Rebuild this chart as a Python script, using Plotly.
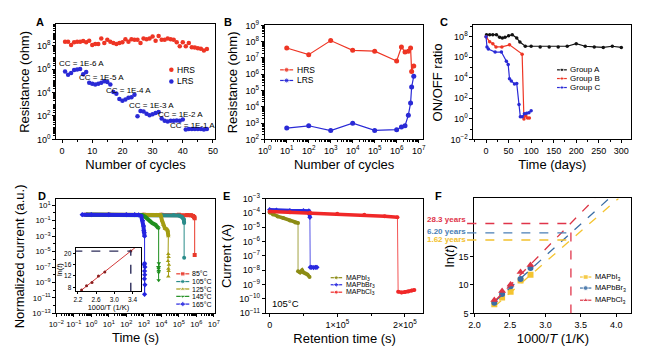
import plotly.graph_objects as go

W, H = 647, 361
FONT = "Liberation Sans, Arial, sans-serif"

# ======================= DATA =======================
# --- Panel A: resistance vs cycle number under different compliance currents
cycles_a = list(range(1, 49))
hrs_a = [2.1e8, 2.1e8, 1.1e8, 1.9e8, 2.1e8, 2.1e8, 2.4e8, 1.9e8, 2.5e8, 1.1e8,
         1.35e8, 1.35e8, 4.0e8, 1.65e8, 3.1e8, 2.1e8, 1.65e8, 1.35e8, 1.65e8, 1.9e8,
         3.5e8, 2.1e8, 3.5e8, 3.1e8, 3.1e8, 1.65e8, 4.0e8, 3.5e8, 4.0e8, 5.8e8,
         2.5e8, 6.6e8, 3.1e8, 3.1e8, 4.0e8, 3.5e8, 3.1e8, 1.9e8, 8.7e7, 1.9e8,
         8.5e7, 1.65e8, 7.1e7, 6.8e7, 5.9e7, 5.2e7, 3.8e7, 5.0e7]
lrs_a = [6.2e5, 3.2e5, 4.5e5, 8.3e5, 8.9e5, 1.0e6, 3.5e5, 5.6e5,
         6.6e4, 5.5e4, 4.9e4, 5.5e4, 6.6e4, 9.1e4, 7.9e4, 4.9e4,
         1.1e4, 7.9e3, 2.8e3, 2.0e3, 2.5e3, 3.5e3, 4.0e3, 6.3e3,
         95, 263, 240, 158, 117, 141, 182, 219,
         62, 40, 33, 40, 40, 42, 40, 51,
         7.1, 7.6, 7.6, 7.6, 7.6, 7.6, 7.1, 7.6]
cc_labels = ["CC = 1E-6 A", "CC = 1E-5 A", "CC = 1E-4 A",
             "CC = 1E-3 A", "CC = 1E-2 A", "CC = 1E-1 A"]

# --- Panel B: endurance
cycles_b = [10, 100, 1e3, 1e4, 1e5, 1e6, 1.65e6, 2.4e6, 3.4e6, 4.3e6, 4.8e6, 6.0e6]
hrs_b = [4.1e7, 1.6e7, 1.17e8, 2.95e7, 2.6e7, 6.5e6, 4.7e7, 2.3e7, 2.6e7, 4.1e7, 1.5e6, 3.2e6]
lrs_b = [500, 690, 350, 1000, 360, 400, 575, 690, 3100, 1.7e4, 1.66e5, 7.6e5]

# --- Panel C: ON/OFF ratio vs storage time
days_grp_a = [1, 8, 15, 23, 30, 36, 42, 50, 58, 68, 75, 87, 100, 120, 140, 160,
              180, 200, 220, 240, 260, 280, 300]
ratio_grp_a = [1.55e8, 1.55e8, 1.55e8, 1.55e8, 8.7e7, 7.6e7, 8.7e7, 1.23e8, 1.55e8,
               7.6e7, 3.0e7, 1.17e7, 1.17e7, 1.0e7, 1.0e7, 1.0e7, 1.17e7, 2.1e7,
               1.17e7, 1.0e7, 8.9e6, 1.17e7, 8.9e6]
days_grp_b = [0, 8, 15, 22, 35, 52, 80, 84, 88, 92, 96]
ratio_grp_b = [1e8, 3.2e7, 2e7, 1e7, 1e7, 1.6e7, 2e6, 1.0, 2.0, 1.25, 1.25]
days_grp_c = [0, 2, 5, 20, 34, 45, 49, 52, 56, 63, 68, 73, 76, 80, 85, 90, 95, 100]
ratio_grp_c = [1e8, 1e7, 6.3e6, 3.2e6, 3.2e6, 4e5, 2e5, 7.9e3, 5e3, 2.5e3, 2.8e3,
               25, 1.6, 1.6, 3.2, 3.5, 4.0, 6.3]

# --- Panel D: retention at different temperatures (before / after failure)
temps_d = ["85°C", "105°C", "125°C", "145°C", "165°C"]
t_ret_d = [
    [0.5, 10, 1e3, 1e4, 1e5, 3e5, 5e5, 6.5e5, 7.5e5, 8e5],
    [0.5, 10, 1e3, 1e4, 5e4, 1e5, 1.5e5, 1.9e5, 2e5],
    [0.5, 10, 1e3, 5e3, 9e3, 1.1e4, 1.3e4, 1.6e4, 2e4, 2.3e4, 2.5e4],
    [0.5, 10, 300, 800, 1.2e3, 2e3, 3e3, 4.5e3, 6e3, 7e3],
    [0.3, 1, 10, 100, 300, 500, 700, 850, 950, 1000, 1050, 1100],
]
i_ret_d = [
    [0.6, 0.6, 0.6, 0.6, 0.6, 0.55, 0.5, 0.4, 0.3, 0.2],
    [0.6, 0.6, 0.6, 0.6, 0.55, 0.45, 0.3, 0.15, 0.05],
    [0.6, 0.6, 0.6, 0.6, 0.55, 0.1, 0.03, 0.01, 0.008, 0.005, 1e-3],
    [0.6, 0.6, 0.6, 0.55, 0.3, 0.1, 0.05, 0.03, 0.015, 0.01],
    [0.6, 0.6, 0.6, 0.6, 0.6, 0.55, 0.4, 0.1, 0.02, 0.005, 3e-3, 1e-3],
]
t_fail_d = [
    [8e5],
    [2e5],
    [2.5e4, 2.6e4, 2.4e4, 2.7e4, 2.5e4, 2.6e4, 2.5e4],
    [7e3, 7.2e3, 6.8e3, 7.1e3, 7e3, 6.9e3, 7e3],
    [1100, 1150, 1080, 1120, 1100, 1150, 1060, 1100],
]
i_fail_d = [
    [3.5e-6],
    [1.6e-6],
    [5e-6, 2e-6, 6e-7, 2e-7, 6e-8, 3e-8, 6e-9],
    [1e-7, 3e-7, 1e-7, 3e-8, 2e-8, 6e-8, 2e-9],
    [3e-11, 5e-10, 3e-9, 1e-8, 3e-8, 1e-7, 2e-7, 3e-7],
]
# inset: Arrhenius plot
inv_t_inset = [2.28, 2.39, 2.51, 2.65, 2.79, 3.36]
ln_t_inset = [7.0, 8.5, 9.7, 12.0, 13.4, 20.8]
fit_x_inset = [2.28, 3.6]
fit_y_inset = [7.0, 23.9]

# --- Panel E: retention at 105 °C for three perovskites
mats_e = ["MAPbI<sub>3</sub>", "MAPbBr<sub>3</sub>", "MAPbCl<sub>3</sub>"]
t_ret_e = [
    [0, 0.05e5, 0.12e5, 0.2e5, 0.3e5, 0.38e5, 0.42e5],
    [0, 0.1e5, 0.3e5, 0.5e5, 0.58e5, 0.59e5, 0.595e5],
    [0, 0.3e5, 0.6e5, 1.0e5, 1.4e5, 1.7e5, 1.89e5],
]
i_ret_e = [
    [1.1e-4, 8e-5, 5.8e-5, 4.5e-5, 3e-5, 2.2e-5, 2e-5],
    [1.7e-4, 1.6e-4, 1.5e-4, 1.45e-4, 1.4e-4, 8e-5, 5e-5],
    [1.3e-4, 1.15e-4, 1.05e-4, 9e-5, 7.5e-5, 6e-5, 5e-5],
]
t_fail_e = [
    [0.42e5, 0.45e5, 0.48e5, 0.5e5, 0.53e5, 0.56e5, 0.59e5],
    [0.6e5, 0.62e5, 0.65e5, 0.68e5, 0.7e5],
    [1.9e5, 1.95e5, 2.0e5, 2.05e5, 2.1e5, 2.14e5],
]
i_fail_e = [
    [8.5e-9, 7e-9, 1e-8, 7e-9, 6e-9, 5e-9, 3.4e-9],
    [1.6e-8, 1.6e-8, 1.5e-8, 1.6e-8, 1.6e-8],
    [3.2e-10, 2.8e-10, 3e-10, 3.3e-10, 3.8e-10, 4.2e-10],
]

# --- Panel F: Arrhenius extrapolation
inv_t_f = [2.28, 2.39, 2.51, 2.65, 2.79]
ln_t_f = [
    [6.6, 7.8, 8.8, 10.8, 11.8],     # MAPbI3
    [6.9, 8.4, 9.8, 11.05, 13.0],    # MAPbBr3
    [7.37, 8.95, 10.1, 12.3, 13.5],  # MAPbCl3
]
fit_x_f = [[2.28, 4.03], [2.28, 3.90], [2.28, 3.70]]
fit_y_f = [[6.2, 25.2], [7.0, 25.2], [7.1, 25.2]]
room_inv_t = 3.36
years_lnt = [20.8, 19.15, 17.9]          # Cl, Br, I
years_labels = ["28.3 years", "6.20 years", "1.62 years"]

# ======================= STYLE =======================
RED = "#ee3524"
BLUE = "#2a2ad6"
D_COLORS = ["#e8382a", "#2a8c8a", "#a39c12", "#1f8f1f", "#2424e0"]
D_SYMBOLS = ["square", "circle", "triangle-up", "triangle-down", "diamond"]
E_COLORS = ["#8c8c14", "#2a2ae0", "#f02828"]
E_SYMBOLS = ["circle", "diamond", "circle"]
F_COLORS = ["#f4c430", "#3b6ea5", "#dc3545"]
F_SYMBOLS = ["square", "circle", "triangle-up"]
YEAR_COLORS = ["#e0344a", "#4a7fb5", "#f2c12e"]


def dx(l, r):
    return [l / W, r / W]


def dy(t, b):
    return [1 - b / H, 1 - t / H]


def pow_ticks(exps):
    vals = [10.0 ** e for e in exps]
    txt = ["10<sup>%s</sup>" % (("\u2212%d" % -e) if e < 0 else "%d" % e) for e in exps]
    return vals, txt


def axis(domain, anchor, title="", standoff=4, tsize=13, fsize=9, **kw):
    base = dict(domain=domain, anchor=anchor, showgrid=False, zeroline=False,
                showline=True, mirror=True, linecolor="black", linewidth=1,
                ticks="outside", ticklen=3, tickwidth=1, tickcolor="black", tickangle=0,
                tickfont=dict(size=fsize, color="black", family=FONT),
                title=dict(text=title, standoff=standoff,
                           font=dict(size=tsize, color="black", family=FONT)))
    base.update(kw)
    return base


fig = go.Figure()

# ---- A
fig.add_trace(go.Scatter(x=cycles_a, y=hrs_a, mode="markers", name="HRS",
                         marker=dict(color=RED, size=4.5), xaxis="x", yaxis="y"))
fig.add_trace(go.Scatter(x=cycles_a, y=lrs_a, mode="markers", name="LRS",
                         marker=dict(color=BLUE, size=4.5), xaxis="x", yaxis="y"))

# ---- B
fig.add_trace(go.Scatter(x=cycles_b, y=hrs_b, mode="lines+markers", name="HRS",
                         line=dict(color=RED, width=1.2), marker=dict(color=RED, size=5),
                         xaxis="x2", yaxis="y2"))
fig.add_trace(go.Scatter(x=cycles_b, y=lrs_b, mode="lines+markers", name="LRS",
                         line=dict(color=BLUE, width=1.2), marker=dict(color=BLUE, size=5),
                         xaxis="x2", yaxis="y2"))

# ---- C
for xs, ys, col, nm in [(days_grp_a, ratio_grp_a, "#111111", "Group A"),
                        (days_grp_b, ratio_grp_b, RED, "Group B"),
                        (days_grp_c, ratio_grp_c, BLUE, "Group C")]:
    fig.add_trace(go.Scatter(x=xs, y=ys, mode="lines+markers", name=nm,
                             line=dict(color=col, width=1.2), marker=dict(color=col, size=3.5),
                             xaxis="x3", yaxis="y3"))

# ---- D
for k in range(5):
    col = D_COLORS[k]
    fig.add_trace(go.Scatter(x=t_ret_d[k] + t_fail_d[k], y=i_ret_d[k] + i_fail_d[k],
                             mode="lines+markers", name=temps_d[k],
                             line=dict(color=col, width=1),
                             marker=dict(color=col, size=4, symbol=D_SYMBOLS[k]),
                             xaxis="x4", yaxis="y4"))
    fig.add_trace(go.Scatter(x=t_ret_d[k], y=i_ret_d[k], mode="lines", showlegend=False,
                             line=dict(color=col, width=4), xaxis="x4", yaxis="y4",
                             hoverinfo="skip"))

# inset of D
fig.add_trace(go.Scatter(x=fit_x_inset, y=fit_y_inset, mode="lines", showlegend=False,
                         line=dict(color="#d23a3a", width=1), xaxis="x7", yaxis="y7"))
fig.add_trace(go.Scatter(x=inv_t_inset, y=ln_t_inset, mode="markers", showlegend=False,
                         marker=dict(color="#8a1f1f", size=3), xaxis="x7", yaxis="y7"))

# ---- E
for k in range(3):
    col = E_COLORS[k]
    fig.add_trace(go.Scatter(x=t_ret_e[k] + t_fail_e[k], y=i_ret_e[k] + i_fail_e[k],
                             mode="lines", name=mats_e[k], line=dict(color=col, width=0.8),
                             xaxis="x5", yaxis="y5"))
    for xs, ys in [(t_ret_e[k], i_ret_e[k]), (t_fail_e[k], i_fail_e[k])]:
        fig.add_trace(go.Scatter(x=xs, y=ys, mode="lines+markers", showlegend=False,
                                 line=dict(color=col, width=3.5),
                                 marker=dict(color=col, size=4, symbol=E_SYMBOLS[k]),
                                 xaxis="x5", yaxis="y5", hoverinfo="skip"))

# ---- F
for k in range(3):
    col = F_COLORS[k]
    fig.add_trace(go.Scatter(x=fit_x_f[k], y=fit_y_f[k], mode="lines", showlegend=False,
                             line=dict(color=col, width=1.3, dash="dash"),
                             xaxis="x6", yaxis="y6"))
    fig.add_trace(go.Scatter(x=inv_t_f, y=ln_t_f[k], mode="markers", name=mats_e[k],
                             marker=dict(color=col, size=6 if k < 2 else 7, symbol=F_SYMBOLS[k]),
                             xaxis="x6", yaxis="y6"))

# ======================= overlay (pixel) layer for legends & labels =======================
annotations = []


def text(x, y, s, size=9, color="black", bold=False, xanchor="center", yanchor="middle", angle=0):
    annotations.append(dict(x=x, y=y, xref="x8", yref="y8",
                            text=("<b>%s</b>" % s) if bold else s, showarrow=False,
                            font=dict(size=size, color=color, family=FONT),
                            xanchor=xanchor, yanchor=yanchor, textangle=angle, borderpad=0))


def key(x0, xm, x1, y, color, symbol, size, line=True, width=1.2):
    if line:
        fig.add_trace(go.Scatter(x=[x0, xm, x1], y=[y, y, y], mode="lines+markers",
                                 marker=dict(size=[0, size, 0], symbol=symbol, color=color),
                                 line=dict(color=color, width=width), xaxis="x8", yaxis="y8",
                                 showlegend=False, hoverinfo="skip"))
    else:
        fig.add_trace(go.Scatter(x=[xm], y=[y], mode="markers",
                                 marker=dict(size=size, symbol=symbol, color=color),
                                 xaxis="x8", yaxis="y8", showlegend=False, hoverinfo="skip"))


# panel letters
for lab, (px, py) in zip("ABCDEF", [(33, 15), (225, 15), (445, 15), (35, 195), (223, 195), (439, 195)]):
    text(px, py, lab, size=11, bold=True)

# A legend + CC labels
for nm, col, py in [("HRS", RED, 65), ("LRS", BLUE, 77)]:
    key(0, 166.7, 0, py, col, "circle", 4.5, line=False)
    text(171.5, py, nm, size=8.5, xanchor="left")
for lab, (px, py) in zip(cc_labels, [(75, 58.3), (95, 72.7), (122.7, 86.7),
                                      (146, 101.7), (176, 111.7), (188.3, 122.7)]):
    text(px, py, lab, size=8)

# B legend
for nm, col, py in [("HRS", RED, 65), ("LRS", BLUE, 76)]:
    key(277.7, 284.3, 291, py, col, "circle", 5)
    text(293.5, py, nm, size=8.5, xanchor="left")

# C legend
for nm, col, py in [("Group A", "#111111", 65), ("Group B", RED, 74), ("Group C", BLUE, 83.3)]:
    key(560.3, 565.3, 570.3, py, col, "circle", 3.5)
    text(572.7, py, nm, size=8, xanchor="left")

# D legend
for k, py in enumerate([276, 284, 291.7, 299.3, 307.3]):
    key(171.7, 178.3, 185, py, D_COLORS[k], D_SYMBOLS[k], 4.5)
    text(186.7, py, temps_d[k], size=7, xanchor="left")

# E legend + temperature label
for k, py in enumerate([280, 287.3, 295]):
    key(329.3, 335, 341, py, E_COLORS[k], E_SYMBOLS[k], 4)
    text(344.3, py, mats_e[k], size=7, xanchor="left")
text(282.7, 306.7, "105°C", size=9.5)

# F legend + year labels
for k, py in enumerate([279.3, 290.7, 303.3]):
    key(583.7, 589.5, 595.3, py, F_COLORS[k], F_SYMBOLS[k], 5)
    text(597.7, py, mats_e[k], size=7.5, xanchor="left")
for lab, col, py in zip(years_labels, YEAR_COLORS, [219.3, 231.7, 241]):
    text(468.5, py, lab, size=8, color=col, bold=True, xanchor="right")

# ======================= shapes =======================
shapes = []
for val, col in zip(years_lnt, YEAR_COLORS):
    shapes.append(dict(type="line", xref="x6", yref="y6", x0=1.9, x1=room_inv_t, y0=val, y1=val,
                       line=dict(color=col, width=1.3, dash="dash")))
    shapes.append(dict(type="line", xref="paper", yref="y6", x0=468.5 / W, x1=476 / W, y0=val, y1=val,
                       line=dict(color=col, width=1.3, dash="dash")))
shapes.append(dict(type="line", xref="x6", yref="y6", x0=room_inv_t, x1=room_inv_t, y0=5, y1=years_lnt[0],
                   line=dict(color=YEAR_COLORS[0], width=1.3, dash="dash")))
# inset guide lines
shapes.append(dict(type="line", xref="x7", yref="y7", x0=2.1, x1=inv_t_inset[-1],
                   y0=ln_t_inset[-1], y1=ln_t_inset[-1], line=dict(color="#2d2d5a", width=1.4, dash="dash")))
shapes.append(dict(type="line", xref="x7", yref="y7", x0=inv_t_inset[-1], x1=inv_t_inset[-1],
                   y0=0, y1=ln_t_inset[-1], line=dict(color="#2d2d5a", width=1.4, dash="dash")))

# ======================= layout =======================
ya_v, ya_t = pow_ticks([0, 2, 4, 6, 8])
yb_v, yb_t = pow_ticks(list(range(2, 10)))
xb_v, xb_t = pow_ticks(list(range(0, 8)))
yc_v, yc_t = pow_ticks([-2, 0, 2, 4, 6, 8])
yd_v, yd_t = pow_ticks([-13, -11, -9, -7, -5, -3, -1, 1])
xd_v, xd_t = pow_ticks(list(range(-2, 8)))
ye_v, ye_t = pow_ticks(list(range(-11, -2)))

minor_log = dict(ticks="outside", ticklen=2, dtick="D1", tickcolor="black")

fig.update_layout(
    width=W, height=H, margin=dict(l=0, r=0, t=0, b=0),
    paper_bgcolor="white", plot_bgcolor="rgba(0,0,0,0)",
    font=dict(family=FONT, color="black"), showlegend=False,
    annotations=annotations, shapes=shapes,
    # A
    xaxis=axis(dx(49.3, 211), "y", "Number of cycles", range=[-1.9, 50.6],
               tickvals=[0, 10, 20, 30, 40, 50], minor=dict(ticks="outside", ticklen=2, dtick=5)),
    yaxis=axis(dy(18, 137), "x", "Resistance (ohm)", type="log", range=[0, 9.8],
               tickvals=ya_v, ticktext=ya_t, minor=minor_log),
    # B
    xaxis2=axis(dx(262, 424), "y2", "Number of cycles", type="log", range=[0, 7.22],
                tickvals=xb_v, ticktext=xb_t, minor=minor_log),
    yaxis2=axis(dy(19, 137), "x2", "Resistance (ohm)", type="log", range=[2, 9],
                tickvals=yb_v, ticktext=yb_t, minor=minor_log),
    # C
    xaxis3=axis(dx(475, 636), "y3", "Time (days)", range=[-28, 322],
                tickvals=[0, 50, 100, 150, 200, 250, 300], minor=dict(ticks="outside", ticklen=2, dtick=25)),
    yaxis3=axis(dy(19, 137), "x3", "ON/OFF ratio", type="log", range=[-2, 9.1],
                tickvals=yc_v, ticktext=yc_t, minor=dict(ticks="outside", ticklen=2, dtick=1)),
    # D
    xaxis4=axis(dx(49.3, 211), "y4", "Time (s)", type="log", range=[-2, 7.05], fsize=8,
                tickvals=xd_v, ticktext=xd_t, minor=minor_log),
    yaxis4=axis(dy(199, 317), "x4", "Normalized current (a.u.)", type="log", range=[-13, 1.75],
                tickvals=yd_v, ticktext=yd_t, fsize=8, minor=dict(ticks="outside", ticklen=2, dtick=1)),
    # E
    xaxis5=axis(dx(263, 424), "y5", "Retention time (s)", range=[-5800, 227500],
                tickvals=[0, 1e5, 2e5], ticktext=["0", "1\u00d710<sup>5</sup>", "2\u00d710<sup>5</sup>"],
                minor=dict(ticks="outside", ticklen=2, dtick=5e4)),
    yaxis5=axis(dy(198.3, 316.7), "x5", "Current (A)", type="log", range=[-11, -3],
                tickvals=ye_v, ticktext=ye_t),
    # F
    xaxis6=axis(dx(476, 636), "y6", "1000/<i>T</i> (1/K)", range=[2.0, 4.21],
                tickvals=[2.0, 2.5, 3.0, 3.5, 4.0], ticktext=["2.0", "2.5", "3.0", "3.5", "4.0"]),
    yaxis6=axis(dy(198, 317), "x6", "ln(<i>t</i>)", range=[5, 25.2], tickvals=[5, 10, 15], standoff=1),
    # inset
    xaxis7=axis(dx(69, 136), "y7", "1000/T (1/K)", standoff=0, tsize=7.5, fsize=6.5, range=[2.15, 3.59],
                tickvals=[2.2, 2.6, 3.0, 3.4], ticktext=["2.2", "2.6", "3.0", "3.4"], ticklen=2),
    yaxis7=axis(dy(249.3, 294), "x7", "ln(<i>t</i>)", standoff=0, tsize=7.5, fsize=6.5, range=[6.6, 21.9],
                tickvals=[8, 12, 16, 20], ticklen=2),
    # overlay pixel layer
    xaxis8=dict(domain=[0, 1], anchor="y8", range=[0, W], visible=False, fixedrange=True),
    yaxis8=dict(domain=[0, 1], anchor="x8", range=[H, 0], visible=False, fixedrange=True),
)

fig.write_html("out.html", config={"displayModeBar": False},
               post_script="document.body.style.margin='0';document.body.style.padding='0';")
